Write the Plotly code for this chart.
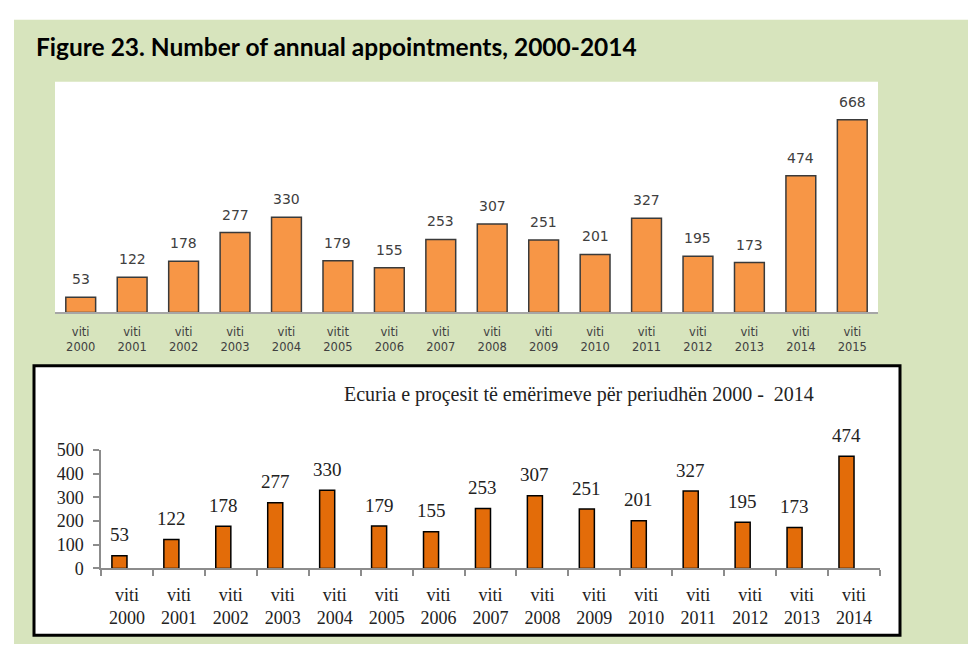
import plotly.graph_objects as go

# ---- data ----
top_years = ["2000", "2001", "2002", "2003", "2004", "2005", "2006", "2007",
             "2008", "2009", "2010", "2011", "2012", "2013", "2014", "2015"]
top_prefix = ["viti", "viti", "viti", "viti", "viti", "vitit", "viti", "viti",
              "viti", "viti", "viti", "viti", "viti", "viti", "viti", "viti"]
top_values = [53, 122, 178, 277, 330, 179, 155, 253, 307, 251, 201, 327, 195, 173, 474, 668]

bot_years = ["2000", "2001", "2002", "2003", "2004", "2005", "2006", "2007",
             "2008", "2009", "2010", "2011", "2012", "2013", "2014"]
bot_values = [53, 122, 178, 277, 330, 179, 155, 253, 307, 251, 201, 327, 195, 173, 474]
bot_ticks = [0, 100, 200, 300, 400, 500]

fig_title = "Figure 23. Number of annual appointments, 2000-2014"
bot_title = "Ecuria e proçesit të emërimeve për periudhën 2000 -\u00a0 2014"

# ---- geometry helpers (pixels -> paper) ----
W, H = 968, 654
def px(x):
    return x / W
def py(y):
    return 1 - y / H

GREEN = "#D7E4BD"
SANS = "DejaVu Sans"
SERIF = "Liberation Serif"

top_cats = [f"{p} {y}" for p, y in zip(top_prefix, top_years)]
top_ticktext = [f"{p}<br>{y}" for p, y in zip(top_prefix, top_years)]
bot_cats = [f"viti {y}" for y in bot_years]
bot_ticktext = [f"viti<br>{y}" for y in bot_years]

fig = go.Figure()

fig.add_trace(go.Bar(
    x=top_cats, y=top_values, xaxis="x", yaxis="y",
    marker=dict(color="#F79646", line=dict(color="#3A3A3A", width=1.5)),
    width=0.58, hoverinfo="x+y", showlegend=False,
))

BW = 0.29
fig.add_trace(go.Bar(
    x=bot_cats, y=bot_values, xaxis="x2", yaxis="y2",
    marker=dict(color="#E36C09", line=dict(color="#000000", width=1.5)),
    width=BW, offset=-BW, hoverinfo="x+y", showlegend=False,
))

shapes = [
    dict(type="rect", xref="paper", yref="paper", x0=px(14), x1=px(968), y0=py(654), y1=py(10),
         fillcolor=GREEN, line=dict(width=0), layer="below"),
    dict(type="rect", xref="paper", yref="paper", x0=px(55), x1=px(878), y0=py(312), y1=py(74),
         fillcolor="white", line=dict(width=0), layer="below"),
    dict(type="rect", xref="paper", yref="paper", x0=px(34), x1=px(900), y0=py(645), y1=py(367),
         fillcolor="white", line=dict(color="black", width=3), layer="below"),
]

annotations = [
    dict(text=f"<b>{fig_title}</b>", xref="paper", yref="paper", x=px(34), y=py(38),
         xanchor="left", yanchor="middle", showarrow=False,
         font=dict(family="Lato", size=24.5, color="#000000")),
    dict(text=bot_title, xref="paper", yref="paper", x=px(342), y=py(397),
         xanchor="left", yanchor="middle", showarrow=False,
         font=dict(family=SERIF, size=20, color="#222222")),
]
for i, v in enumerate(top_values):
    annotations.append(dict(text=str(v), xref="x", yref="y", x=i, y=v, yshift=18,
                            xanchor="center", yanchor="middle", showarrow=False,
                            font=dict(family=SANS, size=14, color="#404040")))
for i, v in enumerate(bot_values):
    annotations.append(dict(text=str(v), xref="x2", yref="y2", x=i - BW / 2, y=v, yshift=21,
                            xanchor="center", yanchor="middle", showarrow=False,
                            font=dict(family=SERIF, size=19, color="#222222")))

fig.update_layout(
    width=W, height=H, autosize=False,
    margin=dict(l=0, r=0, t=0, b=0),
    paper_bgcolor="white", plot_bgcolor="rgba(0,0,0,0)",
    shapes=shapes, annotations=annotations,
    xaxis=dict(domain=[px(55), px(878)], anchor="y", type="category",
               tickmode="array", tickvals=top_cats, ticktext=top_ticktext,
               showline=True, linecolor="#A6A6A6", linewidth=1.5,
               showgrid=False, ticks="", fixedrange=True, ticklabelstandoff=8,
               tickfont=dict(family=SANS, size=11.5, color="#404040")),
    yaxis=dict(domain=[py(312), py(74)], anchor="x", range=[0, 800],
               visible=False, fixedrange=True),
    xaxis2=dict(domain=[px(101), px(880)], anchor="y2", type="category",
                tickmode="array", tickvals=bot_cats, ticktext=bot_ticktext,
                showline=True, linecolor="#8C8C8C", linewidth=1.5,
                showgrid=False, ticks="outside", tickson="boundaries",
                ticklen=6, tickcolor="#8C8C8C", tickwidth=1.5, fixedrange=True,
                ticklabelstandoff=9,
                tickfont=dict(family=SERIF, size=18, color="#222222")),
    yaxis2=dict(domain=[py(576), py(454)], anchor="x2", range=[0, 500],
                tickvals=bot_ticks, showline=True, linecolor="#8C8C8C", linewidth=1.5,
                ticks="outside", ticklen=6, tickcolor="#8C8C8C", tickwidth=1.5,
                showgrid=False, zeroline=False, fixedrange=True, ticklabelstandoff=6,
                tickfont=dict(family=SERIF, size=18, color="#222222")),
)

fig.write_html("out.html", config={"displayModeBar": False},
               post_script="document.body.style.margin='0';")
